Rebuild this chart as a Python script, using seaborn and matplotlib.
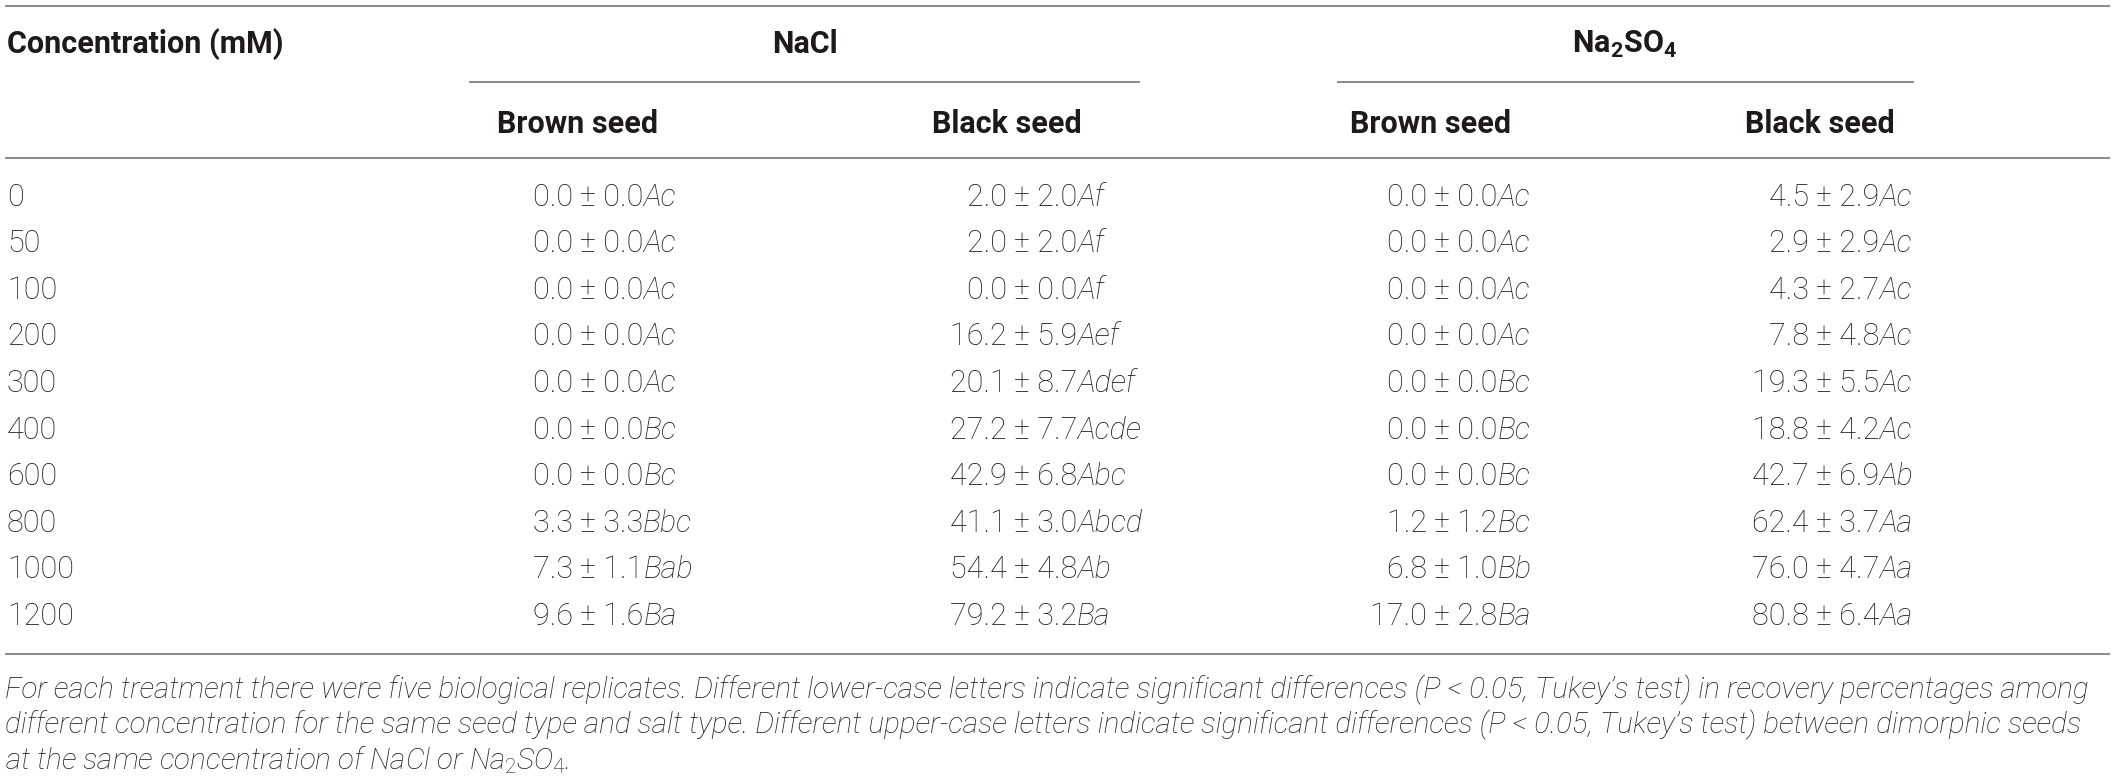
import matplotlib
matplotlib.use('Agg')
import matplotlib.pyplot as plt
import seaborn as sns

# --- table data ---
concentrations = ['0', '50', '100', '200', '300', '400', '600', '800', '1000', '1200']

nacl_brown_mean = [0.0, 0.0, 0.0, 0.0, 0.0, 0.0, 0.0, 3.3, 7.3, 9.6]
nacl_brown_se = [0.0, 0.0, 0.0, 0.0, 0.0, 0.0, 0.0, 3.3, 1.1, 1.6]
nacl_brown_letters = ['Ac', 'Ac', 'Ac', 'Ac', 'Ac', 'Bc', 'Bc', 'Bbc', 'Bab', 'Ba']

nacl_black_mean = [2.0, 2.0, 0.0, 16.2, 20.1, 27.2, 42.9, 41.1, 54.4, 79.2]
nacl_black_se = [2.0, 2.0, 0.0, 5.9, 8.7, 7.7, 6.8, 3.0, 4.8, 3.2]
nacl_black_letters = ['Af', 'Af', 'Af', 'Aef', 'Adef', 'Acde', 'Abc', 'Abcd', 'Ab', 'Ba']

na2so4_brown_mean = [0.0, 0.0, 0.0, 0.0, 0.0, 0.0, 0.0, 1.2, 6.8, 17.0]
na2so4_brown_se = [0.0, 0.0, 0.0, 0.0, 0.0, 0.0, 0.0, 1.2, 1.0, 2.8]
na2so4_brown_letters = ['Ac', 'Ac', 'Ac', 'Ac', 'Bc', 'Bc', 'Bc', 'Bc', 'Bb', 'Ba']

na2so4_black_mean = [4.5, 2.9, 4.3, 7.8, 19.3, 18.8, 42.7, 62.4, 76.0, 80.8]
na2so4_black_se = [2.9, 2.9, 2.7, 4.8, 5.5, 4.2, 6.9, 3.7, 4.7, 6.4]
na2so4_black_letters = ['Ac', 'Ac', 'Ac', 'Ac', 'Ac', 'Ac', 'Ab', 'Aa', 'Aa', 'Aa']

salt_headers = ['NaCl', r'$\mathbf{Na_2SO_4}$']
seed_headers = ['Brown seed', 'Black seed', 'Brown seed', 'Black seed']

footnote_lines = [
    "For each treatment there were five biological replicates. Different lower-case letters indicate "
    "significant differences (P < 0.05, Tukey\u2019s test) in recovery percentages among",
    "different concentration for the same seed type and salt type. Different upper-case letters "
    "indicate significant differences (P < 0.05, Tukey\u2019s test) between dimorphic seeds",
    r"at the same concentration of NaCl or $\mathit{Na_2SO_4}$.",
]

# --- style ---
sns.set_theme(style='white')
FONT = 'Roboto'
plt.rcParams['font.family'] = [FONT, 'DejaVu Sans']
plt.rcParams['mathtext.fontset'] = 'custom'
plt.rcParams['mathtext.rm'] = f'{FONT}:light'
plt.rcParams['mathtext.it'] = f'{FONT}:italic:light'
plt.rcParams['mathtext.bf'] = f'{FONT}:bold'

TEXT_COLOR = '#1e1a1b'
RULE_COLOR = '#8a8a8a'
FS = 22
FS_NOTE = 21.3

fig = plt.figure(figsize=(21.18, 7.78), dpi=100)
ax = fig.add_axes([0, 0, 1, 1])
ax.set_xlim(0, 2118)
ax.set_ylim(778, 0)
ax.axis('off')

# rules
ax.hlines([6, 158, 654], 5, 2110, color=RULE_COLOR, lw=1.4)
ax.hlines([82, 82], [469, 1337], [1140, 1914], color=RULE_COLOR, lw=1.4)

# headers
ax.text(7, 44, 'Concentration (mM)', ha='left', va='center', fontsize=FS,
        fontweight='bold', color=TEXT_COLOR)
for x, label in zip([805, 1625], salt_headers):
    ax.text(x, 44, label, ha='center', va='center', fontsize=FS,
            fontweight='bold', color=TEXT_COLOR)
for x, label in zip([497, 932, 1350, 1745], seed_headers):
    ax.text(x, 124, label, ha='left', va='center', fontsize=FS,
            fontweight='bold', color=TEXT_COLOR)

# body: "mean ± se" aligned on the ± sign, letters in italics
row_y0, row_step = 197, 46.6
columns = [
    (580, nacl_brown_mean, nacl_brown_se, nacl_brown_letters),
    (1014, nacl_black_mean, nacl_black_se, nacl_black_letters),
    (1434, na2so4_brown_mean, na2so4_brown_se, na2so4_brown_letters),
    (1816, na2so4_black_mean, na2so4_black_se, na2so4_black_letters),
]
for i, conc in enumerate(concentrations):
    y = row_y0 + i * row_step
    ax.text(7, y, conc, ha='left', va='center', fontsize=FS,
            fontweight='light', color=TEXT_COLOR)
    for x_pm, means, ses, letters in columns:
        ax.text(x_pm, y, f'{means[i]:.1f} ', ha='right', va='center',
                fontsize=FS, fontweight='light', color=TEXT_COLOR)
        t2 = ax.text(x_pm, y, f'\u00b1 {ses[i]:.1f}', ha='left', va='center',
                     fontsize=FS, fontweight='light', color=TEXT_COLOR)
        ax.annotate(letters[i], xy=(1, 0.5), xycoords=t2, ha='left', va='center',
                    fontsize=FS, fontweight='light', style='italic', color=TEXT_COLOR)

# footnote
for j, line in enumerate(footnote_lines):
    ax.text(5, 690 + j * 35, line, ha='left', va='center', fontsize=FS_NOTE,
            fontweight='light', style='italic', color=TEXT_COLOR)

plt.savefig('out.png', dpi=100)
plt.close()
